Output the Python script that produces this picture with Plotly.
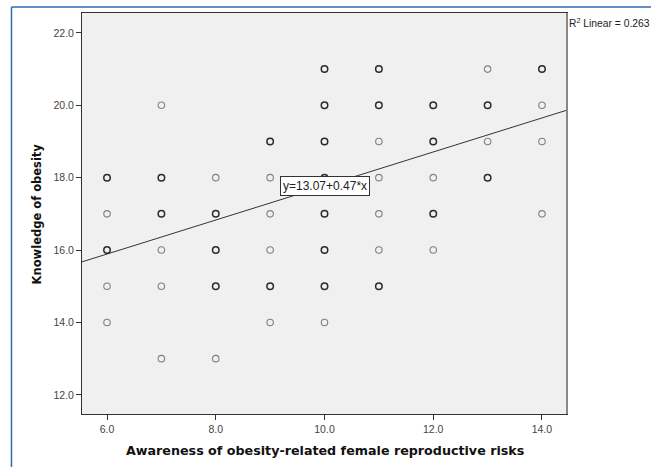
import plotly.graph_objects as go

# Data
light_x = [6, 6, 6, 7, 7, 7, 7, 8, 8, 9, 9, 9, 9, 10, 11, 11, 11, 11, 12, 12, 13, 13, 14, 14, 14]
light_y = [17, 15, 14, 20, 16, 15, 13, 18, 13, 18, 17, 16, 14, 14, 19, 18, 17, 16, 18, 16, 21, 19, 20, 19, 17]
dark_x = [6, 6, 7, 7, 8, 8, 8, 9, 9, 10, 10, 10, 10, 10, 10, 10, 11, 11, 11, 12, 12, 12, 13, 13, 14]
dark_y = [18, 16, 18, 17, 17, 16, 15, 19, 15, 21, 20, 19, 18, 17, 16, 15, 21, 20, 15, 20, 19, 17, 20, 18, 21]
intercept = 13.07
slope = 0.47
r2 = 0.263
x_range = [5.54, 14.46]
y_range = [11.47, 22.55]
x_ticks = [6, 8, 10, 12, 14]
y_ticks = [12, 14, 16, 18, 20, 22]

fit_x = x_range
fit_y = [intercept + slope * v for v in fit_x]

fig = go.Figure()
fig.add_trace(go.Scatter(x=fit_x, y=fit_y, mode="lines",
                         line=dict(color="#333333", width=1), showlegend=False))
fig.add_trace(go.Scatter(x=light_x, y=light_y, mode="markers",
                         marker=dict(symbol="circle-open", size=6.5, color="#808080",
                                     line=dict(width=1.1, color="#808080")),
                         showlegend=False))
fig.add_trace(go.Scatter(x=dark_x, y=dark_y, mode="markers",
                         marker=dict(symbol="circle-open", size=6.5, color="#2a2a2a",
                                     line=dict(width=1.5, color="#2a2a2a")),
                         showlegend=False))

axis_common = dict(showgrid=False, zeroline=False, showline=True, mirror=True,
                   linecolor="#333333", linewidth=1, ticks="outside", ticklen=5,
                   tickcolor="#333333", tickformat=".1f",
                   tickfont=dict(family="Liberation Sans, Arial", size=10.5, color="#444444"))

fig.update_layout(
    width=651, height=467,
    margin=dict(l=82, r=84, t=13, b=53),
    paper_bgcolor="white", plot_bgcolor="#f0f0f0",
    xaxis=dict(range=x_range, tickvals=x_ticks, **axis_common),
    yaxis=dict(range=y_range, tickvals=y_ticks, **axis_common),
    annotations=[
        dict(x=10, y=17.78, xref="x", yref="y", text="y=13.07+0.47*x", showarrow=False,
             bgcolor="white", bordercolor="#333333", borderwidth=1, borderpad=2,
             font=dict(family="Liberation Sans, Arial", size=12, color="#222222")),
        dict(x=1.0, y=0.977, xref="paper", yref="paper", xanchor="left", yanchor="middle",
             text=f"R<sup>2</sup> Linear = {r2}", showarrow=False,
             font=dict(family="Liberation Sans, Arial", size=10.3, color="#222222")),
        dict(x=0.5, y=-0.09, xref="paper", yref="paper", xanchor="center", yanchor="middle",
             text="<b>Awareness of obesity-related female reproductive risks</b>", showarrow=False,
             font=dict(family="DejaVu Sans", size=12.7, color="#111111")),
        dict(x=-0.093, y=0.5, xref="paper", yref="paper", xanchor="center", yanchor="middle",
             text="<b>Knowledge of obesity</b>", showarrow=False, textangle=-90,
             font=dict(family="DejaVu Sans", size=11.5, color="#111111")),
    ],
    shapes=[
        dict(type="line", xref="paper", yref="paper", x0=1, x1=1, y0=0, y1=1,
             line=dict(color="#888888", width=2)),
        dict(type="line", xref="paper", yref="paper", x0=-0.1454, x1=1.3, y0=1.015, y1=1.015,
             line=dict(color="#2e6db4", width=1.5)),
        dict(type="line", xref="paper", yref="paper", x0=-0.1454, x1=-0.1454, y0=-0.3, y1=1.015,
             line=dict(color="#2e6db4", width=1.5)),
    ],
)

fig.write_html("out.html", config={"displayModeBar": False},
               post_script="document.body.style.margin='0';document.body.style.overflow='hidden';")
